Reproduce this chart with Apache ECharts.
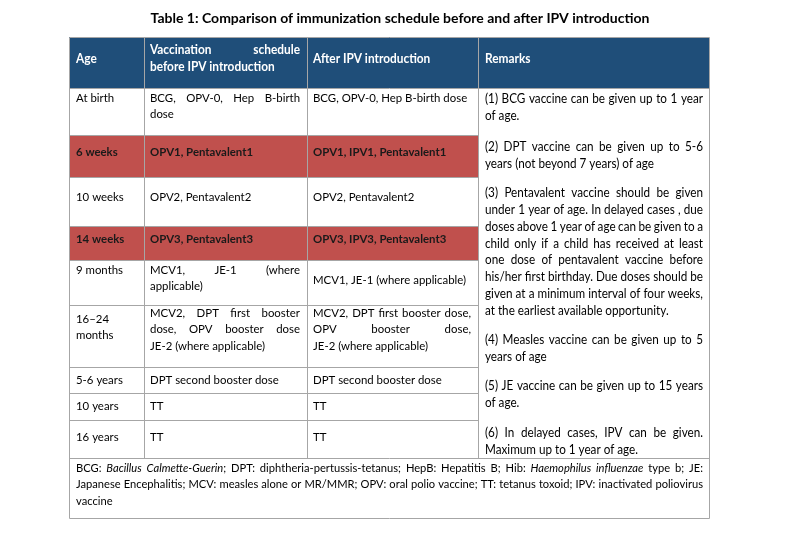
<!DOCTYPE html>
<html><head><meta charset="utf-8">
<script src="https://cdn.jsdelivr.net/npm/echarts@6/dist/echarts.min.js"></script>
<style>html,body{margin:0;padding:0;background:#fff}#c{width:800px;height:534px}</style>
</head><body><div id="c"></div>
<script>
// ---------- DATA ----------
const titleText = 'Table 1: Comparison of immunization schedule before and after IPV introduction';
const headers = ['Age', 'Vaccination schedule\nbefore IPV introduction', 'After IPV introduction', 'Remarks'];
const ages = ['At birth', '6 weeks', '10 weeks', '14 weeks', '9 months', '16–24\nmonths', '5-6 years', '10 years', '16 years'];
const beforeIPV = [
  'BCG, OPV-0, Hep B-birth\ndose',
  'OPV1, Pentavalent1',
  'OPV2, Pentavalent2',
  'OPV3, Pentavalent3',
  'MCV1, JE-1 (where\napplicable)',
  'MCV2, DPT first booster\ndose, OPV booster dose\nJE-2 (where applicable)',
  'DPT second booster dose',
  'TT',
  'TT'
];
const afterIPV = [
  'BCG, OPV-0, Hep B-birth dose',
  'OPV1, IPV1, Pentavalent1',
  'OPV2, Pentavalent2',
  'OPV3, IPV3, Pentavalent3',
  'MCV1, JE-1 (where applicable)',
  'MCV2, DPT first booster dose,\nOPV booster dose,\nJE-2 (where applicable)',
  'DPT second booster dose',
  'TT',
  'TT'
];
const changedRows = [false, true, false, true, false, false, false, false, false];
const remarks = [
  '(1) BCG vaccine can be given up to 1 year\nof age.',
  '(2) DPT vaccine can be given up to  5-6\nyears (not beyond 7 years) of age',
  '(3) Pentavalent vaccine should be given\nunder 1 year of age. In delayed cases , due\ndoses above 1 year of age can be given to a\nchild only if a child has received at least\none dose of pentavalent vaccine before\nhis/her first birthday. Due doses should be\ngiven at a minimum interval of four weeks,\nat the earliest available opportunity.',
  '(4) Measles vaccine can be given up to 5\nyears of age',
  '(5) JE vaccine can be given up to 15 years\nof age.',
  '(6) In delayed cases, IPV can be given.\nMaximum up to 1 year of age.'
];
const footnote = 'BCG: _Bacillus_ _Calmette-Guerin_; DPT: diphtheria-pertussis-tetanus; HepB: Hepatitis B; Hib: _Haemophilus_ _influenzae_ type b; JE:\nJapanese Encephalitis; MCV: measles alone or MR/MMR; OPV: oral polio vaccine; TT: tetanus toxoid; IPV: inactivated poliovirus\nvaccine';

// ---------- LAYOUT ----------
const FAMILY = 'Lato';
const COLS = [69, 144, 307, 478, 709];
const ROWS = [37, 88, 135, 177, 226, 260, 305, 367, 393, 420, 458, 518];
const CELL_Y = [[59, 50, 59, 59], [98, 98, 98], [152, 152, 152], [197, 197, 197], [239, 239, 239],
                [270, 270, 280], [319, 313, 313], [380, 380, 380], [406, 406, 406], [437, 437, 437]];
const PAD_L = [7, 6, 6, 7], PAD_R = [6, 7, 7, 6];
const LH = 16.5;
const REM_Y = [99, 147, 193, 340, 386, 433];
const REM_LH = 16.8;
const FOOT_Y = 468, FOOT_LH = 16.5;
const BLUE = '#1F4E79', RED = '#C0504D', LINE = '#A6A6A6';
const CELL_FONT = {size: 12, weight: 'normal', color: '#000', sx: 0.95};
const CELL_BOLD = {size: 12, weight: 'bold', color: '#1a1a1a', sx: 0.95};
const HEAD_FONT = {size: 12.5, weight: 'bold', color: '#fff', sx: 0.95};
const REM_FONT = {size: 13, weight: 'normal', color: '#000', sx: 0.9};
const FOOT_FONT = {size: 11.5, weight: 'normal', color: '#000', sx: 0.97};

const mctx = document.createElement('canvas').getContext('2d');
function fontStr(f, italic) { return (italic ? 'italic ' : '') + f.weight + ' ' + f.size + 'px ' + FAMILY; }
function measure(t, f, italic) { mctx.font = fontStr(f, italic); return mctx.measureText(t).width * f.sx; }
function segs(word) {
  const out = []; const re = /_([^_]+)_|([^_]+)/g; let m;
  while ((m = re.exec(word))) out.push(m[1] !== undefined ? {t: m[1], i: true} : {t: m[2], i: false});
  return out;
}
// Text elements for a paragraph (lines split by \n), justified except its last line
function paragraph(text, xl, xr, y0, lh, f, api) {
  const els = [];
  const lines = text.split('\n');
  const pL = api.coord([xl, y0]), pR = api.coord([xr, y0]);
  lines.forEach((line, li) => {
    const py = api.coord([xl, y0 + li * lh])[1];
    const words = line.split(' ').filter(Boolean);
    const wsegs = words.map(segs);
    const widths = wsegs.map(ss => ss.reduce((s, g) => s + measure(g.t, f, g.i), 0));
    const total = widths.reduce((a, b) => a + b, 0);
    let gap = measure(' ', f, false);
    const justify = li < lines.length - 1 && words.length > 1;
    if (justify) gap = Math.max(1.5, (pR[0] - pL[0] - total) / (words.length - 1));
    let x = pL[0];
    wsegs.forEach((ss, k) => {
      let sx = x;
      ss.forEach(g => {
        els.push({type: 'text', x: sx, y: py, scaleX: f.sx, silent: true,
          style: {text: g.t, fill: f.color, font: fontStr(f, g.i), align: 'left', verticalAlign: 'middle'}});
        sx += measure(g.t, f, g.i);
      });
      x += widths[k] + gap;
    });
  });
  return els;
}

// ---------- CELL DATA ITEMS ----------
const cellData = [];
for (let r = 0; r <= ages.length; r++) {
  const nc = r === 0 ? 4 : 3;
  for (let c = 0; c < nc; c++) cellData.push([c, r]);
}
function cellText(c, r) {
  if (r === 0) return headers[c];
  return [ages, beforeIPV, afterIPV][c][r - 1];
}

const chart = echarts.init(document.getElementById('c'), null, {renderer: 'canvas'});
chart.setOption({
  animation: false,
  backgroundColor: '#fff',
  title: {text: titleText, left: 'center', top: 6,
    textStyle: {fontFamily: FAMILY, fontSize: 14, fontWeight: 'bold', color: '#000'}},
  grid: {left: 0, right: 0, top: 0, bottom: 0},
  xAxis: {type: 'value', min: 0, max: 800, show: false},
  yAxis: {type: 'value', min: 0, max: 534, inverse: true, show: false},
  series: [
    {
      type: 'custom', name: 'cells', data: cellData, silent: true,
      renderItem: function (params, api) {
        const c = api.value(0), r = api.value(1);
        const p0 = api.coord([COLS[c], ROWS[r]]), p1 = api.coord([COLS[c + 1], ROWS[r + 1]]);
        const fill = r === 0 ? BLUE : (changedRows[r - 1] ? RED : '#fff');
        const f = r === 0 ? HEAD_FONT : (changedRows[r - 1] ? CELL_BOLD : CELL_FONT);
        const children = [{type: 'rect', shape: {x: p0[0], y: p0[1], width: p1[0] - p0[0], height: p1[1] - p0[1]},
          style: {fill: fill}}];
        return {type: 'group', children: children.concat(
          paragraph(cellText(c, r), COLS[c] + PAD_L[c], COLS[c + 1] - PAD_R[c], CELL_Y[r][c], LH, f, api))};
      }
    },
    {
      type: 'custom', name: 'remarks', data: remarks.map((_, i) => [i]), silent: true,
      renderItem: function (params, api) {
        const i = api.value(0);
        return {type: 'group', children: paragraph(remarks[i], COLS[3] + PAD_L[3], COLS[4] - PAD_R[3], REM_Y[i], REM_LH, REM_FONT, api)};
      }
    },
    {
      type: 'custom', name: 'footnote', data: [[0]], silent: true,
      renderItem: function (params, api) {
        return {type: 'group', children: paragraph(footnote, COLS[0] + 7, COLS[4] - 6, FOOT_Y, FOOT_LH, FOOT_FONT, api)};
      }
    },
    {
      type: 'custom', name: 'borders', data: [[0]], silent: true, z: 5,
      renderItem: function (params, api) {
        const segsL = [];
        const seg = (x1, y1, x2, y2) => {
          const a = api.coord([x1, y1]), b = api.coord([x2, y2]);
          segsL.push({type: 'line', shape: {x1: Math.round(a[0]) + 0.5, y1: Math.round(a[1]) + 0.5, x2: Math.round(b[0]) + 0.5, y2: Math.round(b[1]) + 0.5},
            style: {stroke: LINE, lineWidth: 1}});
        };
        const L = COLS[0], R = COLS[4], T = ROWS[0], B = ROWS[ROWS.length - 1], F = ROWS[ROWS.length - 2];
        seg(L, T, R, T); seg(L, B, R, B); seg(L, T, L, B); seg(R, T, R, B);
        seg(L, ROWS[1], R, ROWS[1]); seg(L, F, R, F);
        for (let k = 2; k < ROWS.length - 2; k++) seg(L, ROWS[k], COLS[3], ROWS[k]);
        for (let k = 1; k < 4; k++) seg(COLS[k], T, COLS[k], F);
        return {type: 'group', children: segsL};
      }
    }
  ]
});
</script>
</body></html>
